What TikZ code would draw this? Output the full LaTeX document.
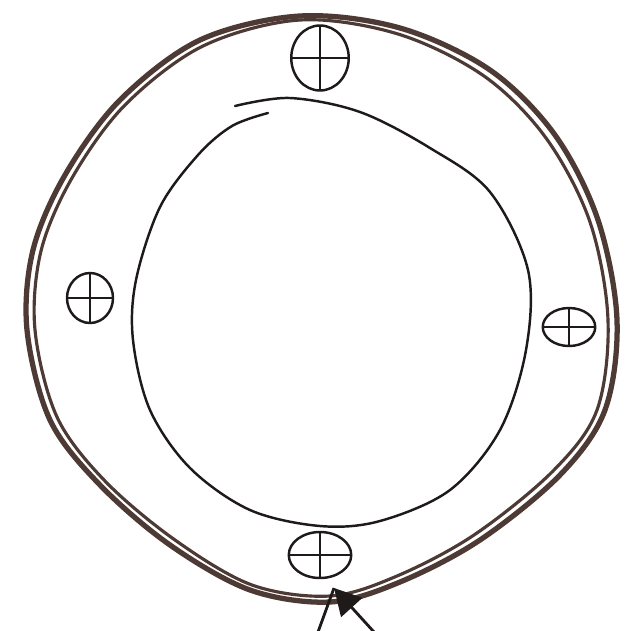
\documentclass[tikz,border=0pt]{standalone}
\usetikzlibrary{arrows.meta,shapes.geometric}
\definecolor{ringbrown}{HTML}{4E3A34}
\definecolor{inkblack}{HTML}{1E1A1A}

\begin{document}
\begin{tikzpicture}[
    x=0.02cm, y=-0.02cm,
    ring/.style={ringbrown, line width=3pt, line join=round},
    ringthin/.style={ringbrown, line width=1.8pt, line join=round},
    inner/.style={inkblack, line width=1.4pt, line cap=round},
    sym/.style={draw=inkblack, ellipse, line width=1.4pt, inner sep=0pt,
                path picture={
                  \draw[inkblack, line width=1.3pt]
                    (path picture bounding box.north) -- (path picture bounding box.south)
                    (path picture bounding box.west) -- (path picture bounding box.east);
                }},
]

% ── Frame ───────────────────────────────────────────────────────
\useasboundingbox (0,0) rectangle (632,630);

% ── Outer ring (two strokes) ────────────────────────────────────
\draw[ring] plot[smooth cycle, tension=0.55] coordinates {
  (300,16) (400,28) (490,70) (555,135) (598,220) (617,320) (605,410)
  (560,475) (480,540) (400,582) (330,602) (250,590) (170,545) (100,485)
  (50,420) (27,330) (33,250) (65,175) (120,100) (200,40)};
\draw[ringthin] plot[smooth cycle, tension=0.55] coordinates {
  (300,20) (398,34) (484,76) (546,138) (590,222) (608,320) (597,410)
  (553,471) (474,535) (397,576) (330,596) (252,585) (175,540) (105,481)
  (57,417) (35,330) (41,251) (72,178) (125,105) (203,46)};

% ── Inner circle ────────────────────────────────────────────────
\draw[inner] plot[smooth, tension=0.55] coordinates {
  (235,106) (290,98) (360,112) (430,148) (490,192) (528,270) (526,350)
  (500,430) (450,490) (380,521) (320,526) (250,510) (190,468) (150,410)
  (133,340) (136,280) (160,207) (198,155) (232,126) (268,113)};

% ── Symbols ─────────────────────────────────────────────────────
\node[sym, minimum width=1.15cm, minimum height=1.3cm] (symN) at (320,58) {};
\node[sym, minimum width=0.92cm, minimum height=1.0cm] (symW) at (90,298) {};
\node[sym, minimum width=1.05cm, minimum height=0.76cm] (symE) at (569,327) {};
\node[sym, minimum width=1.25cm, minimum height=0.92cm] (symS) at (320,555) {};

% ── Arrow ───────────────────────────────────────────────────────
\coordinate (tail) at (374,632);
\coordinate (barb) at (318,632);
\coordinate (apex) at (334,588);
\draw[inkblack, line width=1.6pt, -{Triangle[length=15pt, width=16pt]}] (tail) -- (apex);
\draw[inkblack, line width=1.6pt] (barb) -- (apex);

\end{tikzpicture}
\end{document}
